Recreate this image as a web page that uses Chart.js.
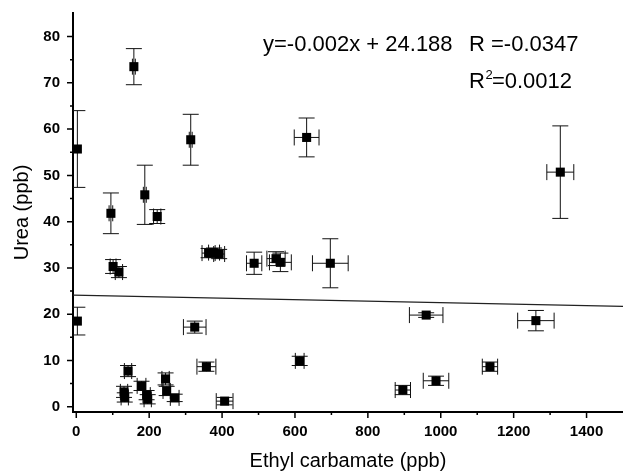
<!DOCTYPE html>
<html>
<head>
<meta charset="utf-8">
<script src="https://cdn.jsdelivr.net/npm/chart.js@4.4.1/dist/chart.umd.min.js"></script>
<style>
  html, body { margin: 0; padding: 0; background: #fff; }
  #wrap { width: 623px; height: 473px; }
</style>
</head>
<body>
<div id="wrap"><canvas id="chart"></canvas></div>
<script>
// Ethyl carbamate (x) vs urea (y), with standard deviations
const carbamate    = [3, 3, 95, 101, 117, 158, 188, 222, 314, 325, 363, 378, 392, 488, 548, 560, 632, 697, 1328,
                      142, 131, 133, 179, 193, 196, 245, 248, 270, 357, 407, 613, 896, 960, 987, 1135, 1261];
const urea         = [55.7, 18.5, 41.8, 30.3, 29.1, 73.5, 45.8, 41.1, 57.7, 17.2, 33.2, 33.3, 33.0, 31.0, 32.0, 31.2, 58.2, 31.0, 50.7,
                      7.7, 3.2, 2.0, 4.5, 2.5, 1.6, 6.0, 3.4, 1.9, 8.65, 1.2, 9.9, 3.6, 19.8, 5.6, 8.65, 18.6];
const carbamateErr = [0, 0, 5, 8, 10, 4, 4, 10, 4, 31, 18, 15, 15, 21, 25, 30, 34, 49, 37,
                      10, 10, 10, 12, 10, 10, 10, 10, 12, 26, 23, 12, 21, 46, 35, 21, 50];
const ureaErr      = [8.3, 3.0, 4.4, 1.5, 1.2, 3.9, 6.4, 1.5, 5.5, 1.3, 1.0, 1.0, 1.0, 2.4, 1.5, 2.0, 4.2, 5.3, 10.0,
                      1.2, 1.2, 1.0, 1.0, 1.0, 1.0, 1.3, 1.0, 0.8, 1.0, 0.8, 1.0, 1.0, 0.5, 1.0, 1.0, 2.2];

// linear fit line, end points
const fitX = [-9, 1500];
const fitY = [24.1, 21.7];

const xTicks = [0, 100, 200, 300, 400, 500, 600, 700, 800, 900, 1000, 1100, 1200, 1300, 1400];
const xLabels = [0, 200, 400, 600, 800, 1000, 1200, 1400];
const yTicks = [0, 5, 10, 15, 20, 25, 30, 35, 40, 45, 50, 55, 60, 65, 70, 75, 80];
const yLabels = [0, 10, 20, 30, 40, 50, 60, 70, 80];

const FONT = '"Liberation Sans", Arial, Helvetica, sans-serif';

const points = carbamate.map((x, i) => ({ x: x, y: urea[i], xe: carbamateErr[i], ye: ureaErr[i] }));

// error bars drawn through the chart scales
const errorBars = {
    id: 'errorBars',
    beforeDatasetsDraw(chart) {
        const { ctx, chartArea, scales: { x, y } } = chart;
        const cap = 8;
        ctx.save();
        ctx.beginPath();
        ctx.rect(chartArea.left, chartArea.top, chartArea.right - chartArea.left, chartArea.bottom - chartArea.top);
        ctx.clip();
        ctx.strokeStyle = '#111';
        ctx.lineWidth = 1;
        points.forEach(p => {
            const px = x.getPixelForValue(p.x);
            const py = y.getPixelForValue(p.y);
            if (p.ye > 0) {
                const top = y.getPixelForValue(p.y + p.ye);
                const bot = y.getPixelForValue(p.y - p.ye);
                ctx.beginPath();
                ctx.moveTo(px, top); ctx.lineTo(px, bot);
                ctx.moveTo(px - cap, top); ctx.lineTo(px + cap, top);
                ctx.moveTo(px - cap, bot); ctx.lineTo(px + cap, bot);
                ctx.stroke();
            }
            if (p.xe > 0) {
                const l = x.getPixelForValue(p.x - p.xe);
                const r = x.getPixelForValue(p.x + p.xe);
                ctx.beginPath();
                ctx.moveTo(l, py); ctx.lineTo(r, py);
                ctx.moveTo(l, py - cap); ctx.lineTo(l, py + cap);
                ctx.moveTo(r, py - cap); ctx.lineTo(r, py + cap);
                ctx.stroke();
            }
        });
        ctx.restore();
    }
};

// outward tick marks, long for labelled values, short for the others
const tickMarks = {
    id: 'tickMarks',
    afterDraw(chart) {
        const { ctx, chartArea, scales: { x, y } } = chart;
        ctx.save();
        ctx.strokeStyle = '#000';
        ctx.lineWidth = 1.5;
        ctx.beginPath();
        xTicks.forEach(v => {
            const px = x.getPixelForValue(v);
            const len = xLabels.includes(v) ? 6 : 3;
            ctx.moveTo(px, chartArea.bottom);
            ctx.lineTo(px, chartArea.bottom + len);
        });
        yTicks.forEach(v => {
            const py = y.getPixelForValue(v);
            const len = yLabels.includes(v) ? 6 : 3;
            ctx.moveTo(chartArea.left, py);
            ctx.lineTo(chartArea.left - len, py);
        });
        ctx.stroke();

        // fit statistics
        ctx.fillStyle = '#000';
        ctx.textBaseline = 'alphabetic';
        ctx.font = '22px ' + FONT;
        ctx.fillText('y=-0.002x + 24.188', 263, 51);
        ctx.fillText('R =-0.0347', 469, 51);
        ctx.fillText('R', 469, 88);
        const rw = ctx.measureText('R').width;
        ctx.fillText('=0.0012', 469 + rw + 7, 88);
        ctx.font = '13px ' + FONT;
        ctx.fillText('2', 469 + rw + 0.5, 79);
        ctx.restore();
    }
};

new Chart(document.getElementById('chart'), {
    type: 'scatter',
    data: {
        datasets: [{
            label: 'Samples',
            data: points,
            pointStyle: 'rect',
            pointRadius: 6.4,
            pointHoverRadius: 6.4,
            backgroundColor: '#000',
            borderColor: '#000',
            borderWidth: 0
        }, {
            type: 'line',
            label: 'Linear fit',
            data: fitX.map((x, i) => ({ x: x, y: fitY[i] })),
            borderColor: '#222',
            borderWidth: 1.2,
            pointRadius: 0,
            fill: false
        }]
    },
    options: {
        responsive: true,
        maintainAspectRatio: false,
        animation: false,
        layout: { autoPadding: false, padding: { top: 13, right: 0, left: 0, bottom: 0 } },
        plugins: {
            legend: { display: false },
            tooltip: { enabled: false }
        },
        scales: {
            x: {
                type: 'linear',
                min: -9,
                max: 1500,
                afterBuildTicks: scale => { scale.ticks = xTicks.map(v => ({ value: v })); },
                afterFit: scale => { scale.height = 61; scale.paddingRight = 0; scale.paddingLeft = 0; },
                grid: { display: false, drawTicks: false },
                border: { display: true, color: '#000', width: 2 },
                ticks: {
                    autoSkip: false,
                    maxRotation: 0,
                    padding: 11,
                    color: '#000',
                    font: { family: FONT, size: 15, weight: 'bold' },
                    callback: v => xLabels.includes(v) ? String(v) : ''
                },
                title: {
                    display: true,
                    text: 'Ethyl carbamate (ppb)',
                    color: '#000',
                    font: { family: FONT, size: 20 },
                    padding: { top: 0, bottom: 0 }
                }
            },
            y: {
                type: 'linear',
                min: -1.15,
                max: 85.1,
                afterBuildTicks: scale => { scale.ticks = yTicks.map(v => ({ value: v })); },
                afterFit: scale => { scale.width = 73; scale.paddingTop = 0; scale.paddingBottom = 0; },
                grid: { display: false, drawTicks: false },
                border: { display: true, color: '#000', width: 2 },
                ticks: {
                    autoSkip: false,
                    padding: 13,
                    color: '#000',
                    font: { family: FONT, size: 15, weight: 'bold' },
                    callback: v => yLabels.includes(v) ? String(v) : ''
                },
                title: {
                    display: true,
                    text: 'Urea (ppb)',
                    color: '#000',
                    font: { family: FONT, size: 20 },
                    padding: { top: 10, bottom: 0 }
                }
            }
        }
    },
    plugins: [errorBars, tickMarks]
});
</script>
</body>
</html>
